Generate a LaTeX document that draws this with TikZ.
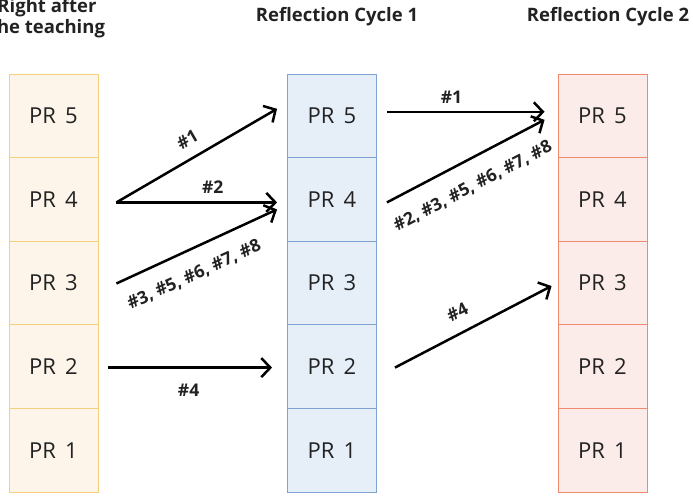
\documentclass[tikz,border=0pt]{standalone}
\usepackage{fontspec}
\setmainfont{Open Sans}
\newfontfamily\prfont[WordSpace=1.6]{Open Sans}
\usetikzlibrary{arrows.meta,positioning,calc}
\definecolor{ylwline}{HTML}{F5CF7A}
\definecolor{ylwfill}{HTML}{FDF5EA}
\definecolor{bluline}{HTML}{7EA3D3}
\definecolor{blufill}{HTML}{E6EEF8}
\definecolor{redline}{HTML}{EE8A6E}
\definecolor{redfill}{HTML}{FCECE9}
\definecolor{txt}{HTML}{222222}
\tikzset{
  cell/.style={rectangle, minimum width=89pt, minimum height=83.6pt, inner sep=0pt,
    line width=0.9pt, font=\prfont\fontsize{22}{22}\selectfont, text=txt},
  ycell/.style={cell, draw=ylwline, fill=ylwfill},
  bcell/.style={cell, draw=bluline, fill=blufill},
  rcell/.style={cell, draw=redline, fill=redfill},
  title/.style={font=\bfseries\fontsize{18.5}{21}\selectfont, text=txt, align=center},
  flow/.style={line width=2.5pt, draw=black, -{Straight Barb[length=9pt,width=19pt,line width=2.5pt]}},
  lbl/.style={font=\bfseries\fontsize{17.5}{17.5}\selectfont, text=txt, sloped, inner sep=0pt}
}
\begin{document}
\begin{tikzpicture}[x=1pt,y=-1pt]
\useasboundingbox (0,0) rectangle (693,497);
\fill[white] (0,0) rectangle (693,497);
% titles
\node[title] (t0) at (47,18) {Right after\\the teaching};
\node[title] (t1) at (337,17) {Reflection Cycle 1};
\node[title] (t2) at (608,17) {Reflection Cycle 2};
% columns
\foreach \i/\r in {5/0,4/1,3/2,2/3,1/4}{
  \node[ycell] (L\i) at (53.5,{115.8+83.6*\r}) {PR \i};
  \node[bcell] (M\i) at (332,{115.8+83.6*\r}) {PR \i};
  \node[rcell] (R\i) at (602.5,{115.8+83.6*\r}) {PR \i};
}
% connector ends
\coordinate (a1s) at ([xshift=18pt,yshift=-3pt]L4.east);
\coordinate (a1e) at ([xshift=-10pt,yshift=7pt]M5.west);
\coordinate (a2s) at ([xshift=18pt,yshift=-3pt]L4.east);
\coordinate (a2e) at ([xshift=-10pt,yshift=-3pt]M4.west);
\coordinate (a3s) at ([xshift=18pt,yshift=-0.5pt]L3.east);
\coordinate (a3e) at ([xshift=-10pt,yshift=-10pt]M4.west);
\coordinate (a4s) at ([xshift=10pt,yshift=-1pt]L2.east);
\coordinate (a4e) at ([xshift=-15pt,yshift=-1pt]M2.west);
\coordinate (b1s) at ([xshift=10pt,yshift=4pt]M5.east);
\coordinate (b1e) at ([xshift=-13pt,yshift=4pt]R5.west);
\coordinate (b2s) at ([xshift=10pt,yshift=-3pt]M4.east);
\coordinate (b2e) at ([xshift=-13pt,yshift=-4pt]R5.west);
\coordinate (b4s) at ([xshift=18pt,yshift=-1pt]M2.east);
\coordinate (b4e) at ([xshift=-6pt,yshift=-3pt]R3.west);
% connectors
\draw[flow] (a1s) -- node[lbl,above=11pt,pos=0.5] {\#1} (a1e);
\draw[flow] (a2s) -- node[lbl,above=8pt,pos=0.6] {\#2} (a2e);
\draw[flow] (a3s) -- node[lbl,below=16pt,pos=0.42] {\#3, \#5, \#6, \#7, \#8} (a3e);
\draw[flow] (a4s) -- node[lbl,below=15pt,pos=0.49] {\#4} (a4e);
\draw[flow] (b1s) -- node[lbl,above=7pt,pos=0.41] {\#1} (b1e);
\draw[flow] (b2s) -- node[lbl,below=17pt,pos=0.47] {\#2, \#3, \#5, \#6, \#7, \#8} (b2e);
\draw[flow] (b4s) -- node[lbl,above=13pt,pos=0.46] {\#4} (b4e);
\end{tikzpicture}
\end{document}
